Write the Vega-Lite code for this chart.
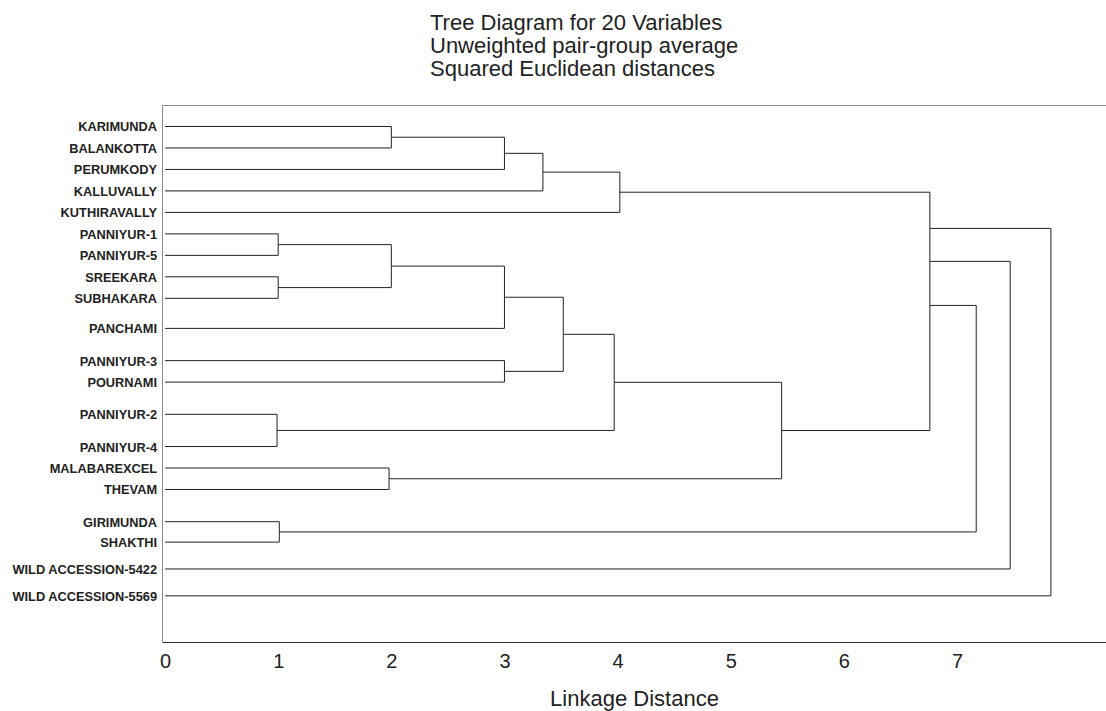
{
  "$schema": "https://vega.github.io/schema/vega-lite/v6.json",
  "autosize": {"type": "none"},
  "padding": {"left": 162, "top": 105, "right": 0, "bottom": 69},
  "width": 944,
  "height": 537,
  "background": "white",
  "config": {"view": {"stroke": null}, "font": "Liberation Sans", "axis": {"grid": false}},
  "title": {
    "text": ["Tree Diagram for 20 Variables", "Unweighted pair-group average", "Squared Euclidean distances"],
    "anchor": "start",
    "frame": "group",
    "dx": 268,
    "fontSize": 22,
    "fontWeight": "normal",
    "font": "Liberation Sans",
    "color": "#222",
    "lineHeight": 23,
    "offset": 24
  },
  "datasets": {
    "leaves": [
      {"name": "KARIMUNDA", "pos": 1.0, "start": 0, "join": 2.0},
      {"name": "BALANKOTTA", "pos": 2.0, "start": 0, "join": 2.0},
      {"name": "PERUMKODY", "pos": 3.0, "start": 0, "join": 3.0},
      {"name": "KALLUVALLY", "pos": 4.0, "start": 0, "join": 3.34},
      {"name": "KUTHIRAVALLY", "pos": 5.0, "start": 0, "join": 4.02},
      {"name": "PANNIYUR-1", "pos": 6.0, "start": 0, "join": 1.0},
      {"name": "PANNIYUR-5", "pos": 7.0, "start": 0, "join": 1.0},
      {"name": "SREEKARA", "pos": 8.0, "start": 0, "join": 1.0},
      {"name": "SUBHAKARA", "pos": 9.0, "start": 0, "join": 1.0},
      {"name": "PANCHAMI", "pos": 10.4, "start": 0, "join": 3.0},
      {"name": "PANNIYUR-3", "pos": 11.9, "start": 0, "join": 3.0},
      {"name": "POURNAMI", "pos": 12.9, "start": 0, "join": 3.0},
      {"name": "PANNIYUR-2", "pos": 14.4, "start": 0, "join": 0.99},
      {"name": "PANNIYUR-4", "pos": 15.9, "start": 0, "join": 0.99},
      {"name": "MALABAREXCEL", "pos": 16.9, "start": 0, "join": 1.98},
      {"name": "THEVAM", "pos": 17.9, "start": 0, "join": 1.98},
      {"name": "GIRIMUNDA", "pos": 19.4, "start": 0, "join": 1.01},
      {"name": "SHAKTHI", "pos": 20.35, "start": 0, "join": 1.01},
      {"name": "WILD ACCESSION-5422", "pos": 21.6, "start": 0, "join": 7.47},
      {"name": "WILD ACCESSION-5569", "pos": 22.85, "start": 0, "join": 7.83}
    ],
    "links": [
      {"x": 2.0, "x2": 2.0, "y": 1.0, "y2": 2.0},
      {"x": 3.0, "x2": 3.0, "y": 1.5, "y2": 3.0},
      {"x": 3.34, "x2": 3.34, "y": 2.25, "y2": 4.0},
      {"x": 4.02, "x2": 4.02, "y": 3.125, "y2": 5.0},
      {"x": 1.0, "x2": 1.0, "y": 6.0, "y2": 7.0},
      {"x": 1.0, "x2": 1.0, "y": 8.0, "y2": 9.0},
      {"x": 2.0, "x2": 2.0, "y": 6.5, "y2": 8.5},
      {"x": 3.0, "x2": 3.0, "y": 7.5, "y2": 10.4},
      {"x": 3.0, "x2": 3.0, "y": 11.9, "y2": 12.9},
      {"x": 3.52, "x2": 3.52, "y": 8.95, "y2": 12.4},
      {"x": 0.99, "x2": 0.99, "y": 14.4, "y2": 15.9},
      {"x": 3.97, "x2": 3.97, "y": 10.675, "y2": 15.15},
      {"x": 1.98, "x2": 1.98, "y": 16.9, "y2": 17.9},
      {"x": 5.45, "x2": 5.45, "y": 12.91, "y2": 17.4},
      {"x": 6.76, "x2": 6.76, "y": 4.06, "y2": 15.155},
      {"x": 1.01, "x2": 1.01, "y": 19.4, "y2": 20.35},
      {"x": 7.17, "x2": 7.17, "y": 9.33, "y2": 19.875},
      {"x": 7.47, "x2": 7.47, "y": 7.28, "y2": 21.6},
      {"x": 7.83, "x2": 7.83, "y": 5.745, "y2": 22.85},
      {"x": 2.0, "x2": 3.0, "y": 1.5, "y2": 1.5},
      {"x": 3.0, "x2": 3.34, "y": 2.25, "y2": 2.25},
      {"x": 3.34, "x2": 4.02, "y": 3.125, "y2": 3.125},
      {"x": 4.02, "x2": 6.76, "y": 4.06, "y2": 4.06},
      {"x": 1.0, "x2": 2.0, "y": 6.5, "y2": 6.5},
      {"x": 1.0, "x2": 2.0, "y": 8.5, "y2": 8.5},
      {"x": 2.0, "x2": 3.0, "y": 7.5, "y2": 7.5},
      {"x": 3.0, "x2": 3.52, "y": 8.95, "y2": 8.95},
      {"x": 3.0, "x2": 3.52, "y": 12.4, "y2": 12.4},
      {"x": 3.52, "x2": 3.97, "y": 10.675, "y2": 10.675},
      {"x": 0.99, "x2": 3.97, "y": 15.15, "y2": 15.15},
      {"x": 3.97, "x2": 5.45, "y": 12.91, "y2": 12.91},
      {"x": 1.98, "x2": 5.45, "y": 17.4, "y2": 17.4},
      {"x": 5.45, "x2": 6.76, "y": 15.155, "y2": 15.155},
      {"x": 6.76, "x2": 7.17, "y": 9.33, "y2": 9.33},
      {"x": 1.01, "x2": 7.17, "y": 19.875, "y2": 19.875},
      {"x": 6.76, "x2": 7.47, "y": 7.28, "y2": 7.28},
      {"x": 6.76, "x2": 7.83, "y": 5.745, "y2": 5.745}
    ]
  },
  "layer": [
    {
      "data": {"name": "links"},
      "mark": {"type": "rule", "color": "#222", "strokeWidth": 1},
      "encoding": {
        "x": {
          "field": "x", "type": "quantitative",
          "scale": {"domain": [-0.027, 8.317], "nice": false, "zero": false},
          "axis": {
            "orient": "bottom", "values": [0, 1, 2, 3, 4, 5, 6, 7], "format": "d",
            "ticks": false, "tickSize": 0, "labelPadding": 9, "labelFontSize": 20,
            "labelFont": "Liberation Sans", "labelColor": "#222", "labelFlush": false,
            "domainColor": "#333", "title": "Linkage Distance", "titleFontSize": 22,
            "titleFont": "Liberation Sans", "titleFontWeight": "normal", "titleColor": "#222",
            "titlePadding": 17
          }
        },
        "x2": {"field": "x2"},
        "y": {
          "field": "y", "type": "quantitative",
          "scale": {"domain": [0, 25], "reverse": true, "nice": false, "zero": false},
          "axis": {"orient": "left", "labels": false, "ticks": false, "title": null, "domainColor": "#888"}
        },
        "y2": {"field": "y2"}
      }
    },
    {
      "data": {"name": "leaves"},
      "mark": {"type": "rule", "color": "#222", "strokeWidth": 1},
      "encoding": {
        "x": {"field": "start", "type": "quantitative", "axis": null},
        "x2": {"field": "join"},
        "y": {
          "field": "pos", "type": "quantitative",
          "axis": {"orient": "left", "labels": false, "ticks": false, "title": null, "domainColor": "#888"}
        }
      }
    },
    {
      "data": {"name": "leaves"},
      "mark": {"type": "text", "align": "right", "baseline": "middle", "dx": -8, "dy": 1, "fontWeight": "bold", "fontSize": 12.8, "font": "Liberation Sans", "color": "#222"},
      "encoding": {
        "x": {
          "field": "start", "type": "quantitative",
          "axis": {"orient": "top", "labels": false, "ticks": false, "title": null, "domainColor": "#888"}
        },
        "y": {
          "field": "pos", "type": "quantitative",
          "axis": {"orient": "left", "labels": false, "ticks": false, "title": null, "domainColor": "#888"}
        },
        "text": {"field": "name"}
      }
    }
  ],
  "resolve": {"axis": {"x": "independent"}}
}
